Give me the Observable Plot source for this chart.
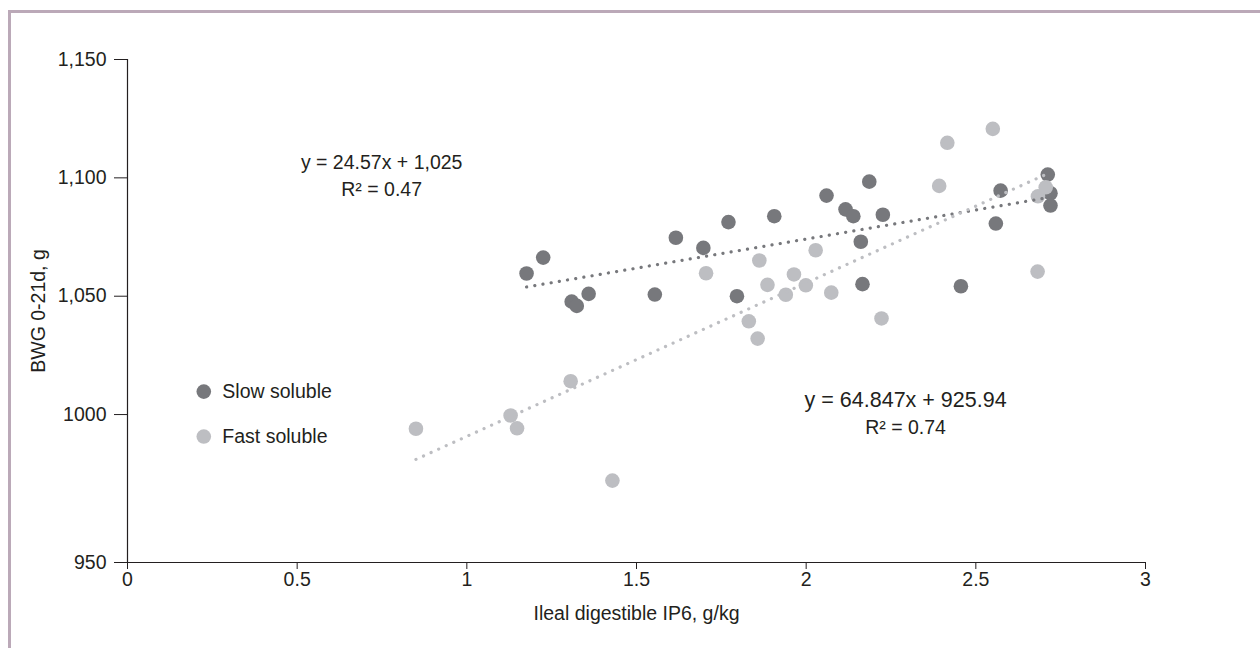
<!DOCTYPE html>
<html>
<head>
<meta charset="utf-8">
<script src="https://cdn.jsdelivr.net/npm/d3@7"></script>
<script src="https://cdn.jsdelivr.net/npm/@observablehq/plot@0.6"></script>
<style>
  html, body { margin: 0; padding: 0; background: #fff; overflow: hidden; }
  #wrap { position: relative; width: 1260px; height: 648px; overflow: hidden; }
  #frame { position: absolute; left: 8px; top: 10px; width: 1300px; height: 700px;
           border-top: 3px solid #bba9b8; border-left: 3px solid #bba9b8; box-sizing: border-box; }
  #chart { position: absolute; left: 0; top: 0; }
</style>
</head>
<body>
<div id="wrap"><div id="frame"></div><div id="chart"></div></div>
<script>
// ---- data ----
const slowX = [1.176, 1.225, 1.309, 1.324, 1.359, 1.554, 1.616, 1.697, 1.771, 1.796, 1.906, 2.060,
               2.186, 2.116, 2.139, 2.226, 2.161, 2.166, 2.456, 2.559, 2.573, 2.712, 2.720, 2.720];
const slowY = [1059.6, 1066.3, 1047.7, 1045.9, 1051.0, 1050.7, 1074.7, 1070.4, 1081.3, 1050.0, 1083.8, 1092.5,
               1098.4, 1086.7, 1083.8, 1084.4, 1073.0, 1055.1, 1054.2, 1080.7, 1094.6, 1101.4, 1093.5, 1088.3];
const fastX = [0.850, 1.129, 1.148, 1.306, 1.429, 1.705, 1.831, 1.857, 1.862, 1.886, 1.940,
               1.964, 1.999, 2.028, 2.074, 2.222, 2.392, 2.416, 2.550, 2.682, 2.683, 2.706];
const fastY = [994.0, 999.6, 994.2, 1014.1, 972.1, 1059.7, 1039.4, 1032.1, 1065.1, 1054.8, 1050.6,
               1059.2, 1054.6, 1069.4, 1051.5, 1040.6, 1096.6, 1114.8, 1120.7, 1060.4, 1092.2, 1096.0];
const seriesNames = ["Slow soluble", "Fast soluble"];
const seriesColors = ["#77787c", "#bdbec2"];
const slopes = [24.57, 64.847];
const intercepts = [1025, 925.94];
const equationLines = [["y = 24.57x + 1,025", "R\u00b2 = 0.47"], ["y = 64.847x + 925.94", "R\u00b2 = 0.74"]];
const xTicks = [0, 0.5, 1, 1.5, 2, 2.5, 3];
const xTickLabels = ["0", "0.5", "1", "1.5", "2", "2.5", "3"];
// the printed axis: its bottom tick (labelled "950") sits at the axis floor
const yDomain = [937.5, 1150];
const yTicks = [937.5, 1000, 1050, 1100, 1150];
const yTickLabels = ["950", "1000", "1,050", "1,100", "1,150"];
const xTitle = "Ileal digestible IP6, g/kg";
const yTitle = "BWG 0-21d, g";

// ---- derived tables ----
const slow = slowX.map((x, i) => ({x, y: slowY[i], s: seriesNames[0]}));
const fast = fastX.map((x, i) => ({x, y: fastY[i], s: seriesNames[1]}));
function trend(k, pts) {
  const [x0, x1] = d3.extent(pts, d => d.x);
  return [x0, x1].map(x => ({x, y: slopes[k] * x + intercepts[k]}));
}
const slowLine = trend(0, slow);
const fastLine = trend(1, fast);

const ink = "#231f20";
const font = "'Liberation Sans', Arial, sans-serif";
const fs = 19.5;

const chart = Plot.plot({
  width: 1260,
  height: 648,
  marginLeft: 127,
  marginRight: 115,
  marginTop: 59,
  marginBottom: 86,
  style: {fontFamily: font, fontSize: fs + "px", color: ink, background: "transparent", overflow: "visible"},
  x: {domain: [0, 3]},
  y: {domain: yDomain},
  marks: [
    Plot.ruleX([0], {stroke: ink, strokeWidth: 1.2}),
    Plot.ruleY([yDomain[0]], {stroke: ink, strokeWidth: 1.2}),
    Plot.axisX({ticks: xTicks, tickFormat: (d, i) => xTickLabels[i], tickSize: 7, tickPadding: 3,
                stroke: ink, fill: ink, fontSize: fs,
                label: xTitle, labelAnchor: "center", labelArrow: "none", labelOffset: 57}),
    Plot.axisY({ticks: yTicks, tickFormat: (d, i) => yTickLabels[i], tickSize: 13, tickPadding: 8,
                stroke: ink, fill: ink, fontSize: fs,
                label: yTitle, labelAnchor: "center", labelArrow: "none", labelOffset: 96}),
    Plot.dot(slow, {x: "x", y: "y", r: 7.3, fill: seriesColors[0]}),
    Plot.dot(fast, {x: "x", y: "y", r: 7.3, fill: seriesColors[1]}),
    Plot.line(slowLine, {x: "x", y: "y", stroke: seriesColors[0], strokeWidth: 3.2,
                         strokeDasharray: "0.1 8.2", strokeLinecap: "round"}),
    Plot.line(fastLine, {x: "x", y: "y", stroke: seriesColors[1], strokeWidth: 3.2,
                         strokeDasharray: "0.1 8.2", strokeLinecap: "round"}),
    // equation annotations
    Plot.text(equationLines[0], {x: 0.749, y: (d, i) => [1106.4, 1094.9][i], text: d => d, fill: ink,
                                 fontSize: fs, textAnchor: "middle"}),
    Plot.text(equationLines[1], {x: 2.293, y: (d, i) => [1005.9, 994.5][i], text: d => d, fill: ink,
                                 fontSize: (d, i) => [21.5, fs][i], textAnchor: "middle"}),
    // legend
    Plot.dot(seriesNames, {x: 0.2248, y: (d, i) => [1009.7, 990.7][i], r: 7.3,
                           fill: (d, i) => seriesColors[i]}),
    Plot.text(seriesNames, {x: 0.2795, y: (d, i) => [1009.7, 990.7][i], text: d => d,
                            textAnchor: "start", fill: ink, fontSize: fs})
  ]
});
document.getElementById("chart").appendChild(chart);
</script>
</body>
</html>
